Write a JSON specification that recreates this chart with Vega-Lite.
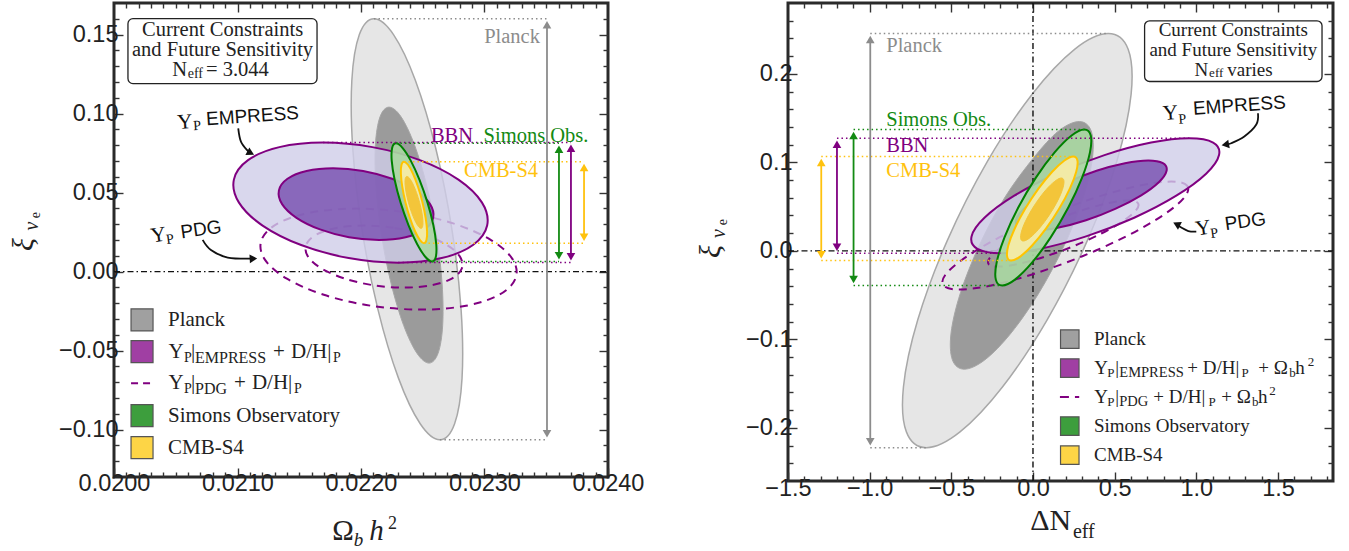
{
"$schema":"https://vega.github.io/schema/vega-lite/v6.json",
"padding":{"left":7,"top":0,"right":0,"bottom":0},
"background":"white",
"bounds":"flush",
"spacing":180,
"config":{"view":{"stroke":"#2a2a2a","strokeWidth":3},"axis":{"domain":false,"grid":false,"tickColor":"#333","tickWidth":1.4,"labelFont":"Liberation Sans","labelFontSize":23.5,"labelColor":"#222","labelFlush":false,"labelOverlap":false,"zindex":1}},
"datasets":{
"LE":[
{"e":"po","i":0,"x":0.022105,"y":0.16},{"e":"po","i":1,"x":0.0222646,"y":0.14983},{"e":"po","i":2,"x":0.0224406,"y":0.12096},{"e":"po","i":3,"x":0.0226061,"y":0.07775},{"e":"po","i":4,"x":0.022736,"y":0.02677},{"e":"po","i":5,"x":0.0228105,"y":-0.02421},{"e":"po","i":6,"x":0.0228182,"y":-0.06742},{"e":"po","i":7,"x":0.022758,"y":-0.09629},{"e":"po","i":8,"x":0.022639,"y":-0.10643},{"e":"po","i":9,"x":0.0224794,"y":-0.09629},{"e":"po","i":10,"x":0.0223034,"y":-0.06742},{"e":"po","i":11,"x":0.0221379,"y":-0.02421},{"e":"po","i":12,"x":0.022008,"y":0.02677},{"e":"po","i":13,"x":0.0219335,"y":0.07775},{"e":"po","i":14,"x":0.0219258,"y":0.12096},{"e":"po","i":15,"x":0.021986,"y":0.14983},
{"e":"pi","i":0,"x":0.022227,"y":0.1041},{"e":"pi","i":1,"x":0.0223246,"y":0.09794},{"e":"pi","i":2,"x":0.0224321,"y":0.08038},{"e":"pi","i":3,"x":0.022533,"y":0.0541},{"e":"pi","i":4,"x":0.022612,"y":0.0231},{"e":"pi","i":5,"x":0.022657,"y":-0.0079},{"e":"pi","i":6,"x":0.0226612,"y":-0.03418},{"e":"pi","i":7,"x":0.022624,"y":-0.05174},{"e":"pi","i":8,"x":0.022551,"y":-0.0579},{"e":"pi","i":9,"x":0.0224534,"y":-0.05174},{"e":"pi","i":10,"x":0.0223459,"y":-0.03418},{"e":"pi","i":11,"x":0.022245,"y":-0.0079},{"e":"pi","i":12,"x":0.022166,"y":0.0231},{"e":"pi","i":13,"x":0.022121,"y":0.0541},{"e":"pi","i":14,"x":0.0221168,"y":0.08038},{"e":"pi","i":15,"x":0.022154,"y":0.09794},
{"e":"eo","i":0,"x":0.021692,"y":0.08167},{"e":"eo","i":1,"x":0.0220917,"y":0.07878},{"e":"eo","i":2,"x":0.0224768,"y":0.07054},{"e":"eo","i":3,"x":0.0227888,"y":0.05821},{"e":"eo","i":4,"x":0.02298,"y":0.04367},{"e":"eo","i":5,"x":0.0230214,"y":0.02913},{"e":"eo","i":6,"x":0.0229067,"y":0.0168},{"e":"eo","i":7,"x":0.0226535,"y":0.00856},{"e":"eo","i":8,"x":0.0223,"y":0.00567},{"e":"eo","i":9,"x":0.0219003,"y":0.00856},{"e":"eo","i":10,"x":0.0215152,"y":0.0168},{"e":"eo","i":11,"x":0.0212032,"y":0.02913},{"e":"eo","i":12,"x":0.021012,"y":0.04367},{"e":"eo","i":13,"x":0.0209706,"y":0.05821},{"e":"eo","i":14,"x":0.0210853,"y":0.07054},{"e":"eo","i":15,"x":0.0213385,"y":0.07878},
{"e":"ei","i":0,"x":0.021774,"y":0.06538},{"e":"ei","i":1,"x":0.0220174,"y":0.06366},{"e":"ei","i":2,"x":0.022252,"y":0.05874},{"e":"ei","i":3,"x":0.0224422,"y":0.05139},{"e":"ei","i":4,"x":0.022559,"y":0.04272},{"e":"ei","i":5,"x":0.0225846,"y":0.03405},{"e":"ei","i":6,"x":0.0225151,"y":0.0267},{"e":"ei","i":7,"x":0.022361,"y":0.02178},{"e":"ei","i":8,"x":0.022146,"y":0.02006},{"e":"ei","i":9,"x":0.0219026,"y":0.02178},{"e":"ei","i":10,"x":0.021668,"y":0.0267},{"e":"ei","i":11,"x":0.0214778,"y":0.03405},{"e":"ei","i":12,"x":0.021361,"y":0.04272},{"e":"ei","i":13,"x":0.0213354,"y":0.05139},{"e":"ei","i":14,"x":0.0214049,"y":0.05874},{"e":"ei","i":15,"x":0.021559,"y":0.06366},
{"e":"do","i":0,"x":0.02196,"y":0.03987},{"e":"do","i":1,"x":0.0223642,"y":0.03744},{"e":"do","i":2,"x":0.022747,"y":0.03051},{"e":"do","i":3,"x":0.0230499,"y":0.02014},{"e":"do","i":4,"x":0.023227,"y":0.00791},{"e":"do","i":5,"x":0.0232513,"y":-0.00432},{"e":"do","i":6,"x":0.0231189,"y":-0.01469},{"e":"do","i":7,"x":0.0228502,"y":-0.02162},{"e":"do","i":8,"x":0.022486,"y":-0.02405},{"e":"do","i":9,"x":0.0220818,"y":-0.02162},{"e":"do","i":10,"x":0.021699,"y":-0.01469},{"e":"do","i":11,"x":0.0213961,"y":-0.00432},{"e":"do","i":12,"x":0.021219,"y":0.00791},{"e":"do","i":13,"x":0.0211947,"y":0.02014},{"e":"do","i":14,"x":0.0213271,"y":0.03051},{"e":"do","i":15,"x":0.0215958,"y":0.03744},
{"e":"di","i":0,"x":0.022024,"y":0.02911},{"e":"di","i":1,"x":0.0222717,"y":0.02762},{"e":"di","i":2,"x":0.0225063,"y":0.02336},{"e":"di","i":3,"x":0.0226922,"y":0.017},{"e":"di","i":4,"x":0.022801,"y":0.00949},{"e":"di","i":5,"x":0.0228162,"y":0.00198},{"e":"di","i":6,"x":0.0227354,"y":-0.00438},{"e":"di","i":7,"x":0.0225711,"y":-0.00864},{"e":"di","i":8,"x":0.022348,"y":-0.01013},{"e":"di","i":9,"x":0.0221003,"y":-0.00864},{"e":"di","i":10,"x":0.0218657,"y":-0.00438},{"e":"di","i":11,"x":0.0216798,"y":0.00198},{"e":"di","i":12,"x":0.021571,"y":0.00949},{"e":"di","i":13,"x":0.0215558,"y":0.017},{"e":"di","i":14,"x":0.0216366,"y":0.02336},{"e":"di","i":15,"x":0.0218009,"y":0.02762},
{"e":"so","i":0,"x":0.022283,"y":0.0812},{"e":"so","i":1,"x":0.0223358,"y":0.07835},{"e":"so","i":2,"x":0.0224028,"y":0.07025},{"e":"so","i":3,"x":0.0224738,"y":0.05811},{"e":"so","i":4,"x":0.022538,"y":0.0438},{"e":"so","i":5,"x":0.0225856,"y":0.02949},{"e":"so","i":6,"x":0.0226093,"y":0.01735},{"e":"so","i":7,"x":0.0226056,"y":0.00925},{"e":"so","i":8,"x":0.022575,"y":0.0064},{"e":"so","i":9,"x":0.0225222,"y":0.00925},{"e":"so","i":10,"x":0.0224552,"y":0.01735},{"e":"so","i":11,"x":0.0223842,"y":0.02949},{"e":"so","i":12,"x":0.02232,"y":0.0438},{"e":"so","i":13,"x":0.0222724,"y":0.05811},{"e":"so","i":14,"x":0.0222487,"y":0.07025},{"e":"so","i":15,"x":0.0222524,"y":0.07835},
{"e":"co","i":0,"x":0.022348,"y":0.0696},{"e":"co","i":1,"x":0.0223806,"y":0.06764},{"e":"co","i":2,"x":0.0224205,"y":0.06204},{"e":"co","i":3,"x":0.0224617,"y":0.05367},{"e":"co","i":4,"x":0.022498,"y":0.0438},{"e":"co","i":5,"x":0.0225237,"y":0.03393},{"e":"co","i":6,"x":0.0225351,"y":0.02556},{"e":"co","i":7,"x":0.0225302,"y":0.01996},{"e":"co","i":8,"x":0.02251,"y":0.018},{"e":"co","i":9,"x":0.0224774,"y":0.01996},{"e":"co","i":10,"x":0.0224375,"y":0.02556},{"e":"co","i":11,"x":0.0223963,"y":0.03393},{"e":"co","i":12,"x":0.02236,"y":0.0438},{"e":"co","i":13,"x":0.0223343,"y":0.05367},{"e":"co","i":14,"x":0.0223229,"y":0.06204},{"e":"co","i":15,"x":0.0223278,"y":0.06764},
{"e":"ci","i":0,"x":0.022372,"y":0.06026},{"e":"ci","i":1,"x":0.0223935,"y":0.05901},{"e":"ci","i":2,"x":0.0224205,"y":0.05544},{"e":"ci","i":3,"x":0.0224488,"y":0.0501},{"e":"ci","i":4,"x":0.022474,"y":0.0438},{"e":"ci","i":5,"x":0.0224924,"y":0.0375},{"e":"ci","i":6,"x":0.0225011,"y":0.03216},{"e":"ci","i":7,"x":0.0224989,"y":0.02859},{"e":"ci","i":8,"x":0.022486,"y":0.02734},{"e":"ci","i":9,"x":0.0224645,"y":0.02859},{"e":"ci","i":10,"x":0.0224375,"y":0.03216},{"e":"ci","i":11,"x":0.0224092,"y":0.0375},{"e":"ci","i":12,"x":0.022384,"y":0.0438},{"e":"ci","i":13,"x":0.0223656,"y":0.0501},{"e":"ci","i":14,"x":0.0223569,"y":0.05544},{"e":"ci","i":15,"x":0.0223591,"y":0.05901}
],
"RE":[
{"e":"po","i":0,"x":0.4611,"y":0.2455},{"e":"po","i":1,"x":0.5828,"y":0.2277},{"e":"po","i":2,"x":0.601,"y":0.177},{"e":"po","i":3,"x":0.5132,"y":0.1011},{"e":"po","i":4,"x":0.3326,"y":0.0116},{"e":"po","i":5,"x":0.0868,"y":-0.0779},{"e":"po","i":6,"x":-0.187,"y":-0.1538},{"e":"po","i":7,"x":-0.4468,"y":-0.2045},{"e":"po","i":8,"x":-0.6533,"y":-0.2223},{"e":"po","i":9,"x":-0.775,"y":-0.2045},{"e":"po","i":10,"x":-0.7932,"y":-0.1538},{"e":"po","i":11,"x":-0.7054,"y":-0.0779},{"e":"po","i":12,"x":-0.5248,"y":0.0116},{"e":"po","i":13,"x":-0.279,"y":0.1011},{"e":"po","i":14,"x":-0.0052,"y":0.177},{"e":"po","i":15,"x":0.2546,"y":0.2277},
{"e":"pi","i":0,"x":0.2835,"y":0.1461},{"e":"pi","i":1,"x":0.3563,"y":0.1355},{"e":"pi","i":2,"x":0.3644,"y":0.1051},{"e":"pi","i":3,"x":0.3066,"y":0.0597},{"e":"pi","i":4,"x":0.1917,"y":0.0062},{"e":"pi","i":5,"x":0.0372,"y":-0.0473},{"e":"pi","i":6,"x":-0.1335,"y":-0.0927},{"e":"pi","i":7,"x":-0.2943,"y":-0.1231},{"e":"pi","i":8,"x":-0.4207,"y":-0.1337},{"e":"pi","i":9,"x":-0.4935,"y":-0.1231},{"e":"pi","i":10,"x":-0.5016,"y":-0.0927},{"e":"pi","i":11,"x":-0.4438,"y":-0.0473},{"e":"pi","i":12,"x":-0.3289,"y":0.0062},{"e":"pi","i":13,"x":-0.1744,"y":0.0597},{"e":"pi","i":14,"x":0.0037,"y":0.1051},{"e":"pi","i":15,"x":0.1571,"y":0.1355},
{"e":"eo","i":0,"x":0.9571,"y":0.1272},{"e":"eo","i":1,"x":1.1031,"y":0.1223},{"e":"eo","i":2,"x":1.1392,"y":0.1082},{"e":"eo","i":3,"x":1.0601,"y":0.0871},{"e":"eo","i":4,"x":0.8775,"y":0.0623},{"e":"eo","i":5,"x":0.6195,"y":0.0374},{"e":"eo","i":6,"x":0.3252,"y":0.0163},{"e":"eo","i":7,"x":0.0395,"y":0.0022},{"e":"eo","i":8,"x":-0.1941,"y":-0.0027},{"e":"eo","i":9,"x":-0.3401,"y":0.0022},{"e":"eo","i":10,"x":-0.3762,"y":0.0163},{"e":"eo","i":11,"x":-0.2971,"y":0.0374},{"e":"eo","i":12,"x":-0.1145,"y":0.0623},{"e":"eo","i":13,"x":0.1435,"y":0.0871},{"e":"eo","i":14,"x":0.4378,"y":0.1082},{"e":"eo","i":15,"x":0.7235,"y":0.1223},
{"e":"ei","i":0,"x":0.706,"y":0.1021},{"e":"ei","i":1,"x":0.7954,"y":0.099},{"e":"ei","i":2,"x":0.8181,"y":0.0905},{"e":"ei","i":3,"x":0.7706,"y":0.0776},{"e":"ei","i":4,"x":0.6601,"y":0.0625},{"e":"ei","i":5,"x":0.5034,"y":0.0474},{"e":"ei","i":6,"x":0.3245,"y":0.0345},{"e":"ei","i":7,"x":0.1506,"y":0.026},{"e":"ei","i":8,"x":0.008,"y":0.023},{"e":"ei","i":9,"x":-0.0814,"y":0.026},{"e":"ei","i":10,"x":-0.1041,"y":0.0345},{"e":"ei","i":11,"x":-0.0566,"y":0.0474},{"e":"ei","i":12,"x":0.0539,"y":0.0625},{"e":"ei","i":13,"x":0.2106,"y":0.0776},{"e":"ei","i":14,"x":0.3895,"y":0.0905},{"e":"ei","i":15,"x":0.5634,"y":0.099},
{"e":"do","i":0,"x":0.8469,"y":0.0783},{"e":"do","i":1,"x":0.9437,"y":0.0737},{"e":"do","i":2,"x":0.927,"y":0.0604},{"e":"do","i":3,"x":0.7992,"y":0.0406},{"e":"do","i":4,"x":0.5799,"y":0.0173},{"e":"do","i":5,"x":0.3024,"y":-0.0061},{"e":"do","i":6,"x":0.009,"y":-0.0258},{"e":"do","i":7,"x":-0.2557,"y":-0.0391},{"e":"do","i":8,"x":-0.4513,"y":-0.0437},{"e":"do","i":9,"x":-0.5481,"y":-0.0391},{"e":"do","i":10,"x":-0.5314,"y":-0.0258},{"e":"do","i":11,"x":-0.4036,"y":-0.0061},{"e":"do","i":12,"x":-0.1843,"y":0.0173},{"e":"do","i":13,"x":0.0932,"y":0.0406},{"e":"do","i":14,"x":0.3866,"y":0.0604},{"e":"do","i":15,"x":0.6513,"y":0.0737},
{"e":"di","i":0,"x":0.5835,"y":0.0569},{"e":"di","i":1,"x":0.6423,"y":0.054},{"e":"di","i":2,"x":0.6315,"y":0.0459},{"e":"di","i":3,"x":0.5528,"y":0.0338},{"e":"di","i":4,"x":0.4182,"y":0.0196},{"e":"di","i":5,"x":0.2482,"y":0.0053},{"e":"di","i":6,"x":0.0686,"y":-0.0068},{"e":"di","i":7,"x":-0.0931,"y":-0.0149},{"e":"di","i":8,"x":-0.2125,"y":-0.0178},{"e":"di","i":9,"x":-0.2713,"y":-0.0149},{"e":"di","i":10,"x":-0.2605,"y":-0.0068},{"e":"di","i":11,"x":-0.1818,"y":0.0053},{"e":"di","i":12,"x":-0.0472,"y":0.0196},{"e":"di","i":13,"x":0.1228,"y":0.0338},{"e":"di","i":14,"x":0.3024,"y":0.0459},{"e":"di","i":15,"x":0.4641,"y":0.054},
{"e":"so","i":0,"x":0.3142,"y":0.1371},{"e":"so","i":1,"x":0.3537,"y":0.1304},{"e":"so","i":2,"x":0.3489,"y":0.1113},{"e":"so","i":3,"x":0.3006,"y":0.0827},{"e":"so","i":4,"x":0.2162,"y":0.0489},{"e":"so","i":5,"x":0.1084,"y":0.0152},{"e":"so","i":6,"x":-0.0062,"y":-0.0134},{"e":"so","i":7,"x":-0.1103,"y":-0.0325},{"e":"so","i":8,"x":-0.188,"y":-0.0392},{"e":"so","i":9,"x":-0.2275,"y":-0.0325},{"e":"so","i":10,"x":-0.2227,"y":-0.0134},{"e":"so","i":11,"x":-0.1744,"y":0.0152},{"e":"so","i":12,"x":-0.09,"y":0.0489},{"e":"so","i":13,"x":0.0178,"y":0.0827},{"e":"so","i":14,"x":0.1324,"y":0.1113},{"e":"so","i":15,"x":0.2365,"y":0.1304},
{"e":"co","i":0,"x":0.2468,"y":0.1066},{"e":"co","i":1,"x":0.2722,"y":0.1021},{"e":"co","i":2,"x":0.2648,"y":0.0894},{"e":"co","i":3,"x":0.2258,"y":0.0703},{"e":"co","i":4,"x":0.1611,"y":0.0478},{"e":"co","i":5,"x":0.0806,"y":0.0253},{"e":"co","i":6,"x":-0.0036,"y":0.0063},{"e":"co","i":7,"x":-0.0786,"y":-0.0065},{"e":"co","i":8,"x":-0.1328,"y":-0.011},{"e":"co","i":9,"x":-0.1582,"y":-0.0065},{"e":"co","i":10,"x":-0.1508,"y":0.0063},{"e":"co","i":11,"x":-0.1118,"y":0.0253},{"e":"co","i":12,"x":-0.0471,"y":0.0478},{"e":"co","i":13,"x":0.0334,"y":0.0703},{"e":"co","i":14,"x":0.1176,"y":0.0894},{"e":"co","i":15,"x":0.1926,"y":0.1021},
{"e":"ci","i":0,"x":0.1733,"y":0.0823},{"e":"ci","i":1,"x":0.189,"y":0.0796},{"e":"ci","i":2,"x":0.1847,"y":0.0719},{"e":"ci","i":3,"x":0.1609,"y":0.0603},{"e":"ci","i":4,"x":0.1213,"y":0.0467},{"e":"ci","i":5,"x":0.0719,"y":0.0331},{"e":"ci","i":6,"x":0.0202,"y":0.0215},{"e":"ci","i":7,"x":-0.0258,"y":0.0138},{"e":"ci","i":8,"x":-0.0593,"y":0.0111},{"e":"ci","i":9,"x":-0.075,"y":0.0138},{"e":"ci","i":10,"x":-0.0707,"y":0.0215},{"e":"ci","i":11,"x":-0.0469,"y":0.0331},{"e":"ci","i":12,"x":-0.0073,"y":0.0467},{"e":"ci","i":13,"x":0.0421,"y":0.0603},{"e":"ci","i":14,"x":0.0938,"y":0.0719},{"e":"ci","i":15,"x":0.141,"y":0.0796}
]
},
"hconcat":[
{
"width":494,"height":474,
"data":{"name":"LE"},
"resolve":{"axis":{"x":"independent","y":"independent"}},
"encoding":{
"x":{"field":"x","type":"quantitative","scale":{"domain":[0.02,0.024],"nice":false,"zero":false},"axis":null},
"y":{"field":"y","type":"quantitative","scale":{"domain":[-0.13,0.17],"nice":false,"zero":false},"axis":null}
},
"layer":[
{"data":{"values":[{"x":0.022,"y":0}]},"mark":{"type":"point","opacity":0},
"encoding":{"x":{"field":"x","type":"quantitative","scale":{"domain":[0.02,0.024],"nice":false,"zero":false},"axis":{"orient":"bottom","values":[0.02,0.021,0.022,0.023,0.024],"format":".4f","tickSize":-9,"labelPadding":3,"labelFlush":false,"title":null}},
"y":{"field":"y","type":"quantitative","scale":{"domain":[-0.13,0.17],"nice":false,"zero":false},"axis":{"orient":"left","values":[-0.1,-0.05,0,0.05,0.1,0.15],"format":".2f","tickSize":-9,"labelPadding":5,"labelFlush":false,"title":null}}}},
{"data":{"values":[{"x":0.022,"y":0}]},"mark":{"type":"point","opacity":0},
"encoding":{"x":{"field":"x","type":"quantitative","scale":{"domain":[0.02,0.024],"nice":false,"zero":false},"axis":{"orient":"bottom","values":[0.0201,0.0202,0.0203,0.0204,0.0205,0.0206,0.0207,0.0208,0.0209,0.0211,0.0212,0.0213,0.0214,0.0215,0.0216,0.0217,0.0218,0.0219,0.0221,0.0222,0.0223,0.0224,0.0225,0.0226,0.0227,0.0228,0.0229,0.0231,0.0232,0.0233,0.0234,0.0235,0.0236,0.0237,0.0238,0.0239],"labels":false,"tickSize":-5,"title":null}},
"y":{"field":"y","type":"quantitative","scale":{"domain":[-0.13,0.17],"nice":false,"zero":false},"axis":{"orient":"left","values":[-0.12,-0.11,-0.09,-0.08,-0.07,-0.06,-0.04,-0.03,-0.02,-0.01,0.01,0.02,0.03,0.04,0.06,0.07,0.08,0.09,0.11,0.12,0.13,0.14,0.16],"labels":false,"tickSize":-5,"title":null}}}},
{"data":{"values":[{"x":0.022,"y":0}]},"mark":{"type":"point","opacity":0},
"encoding":{"x":{"field":"x","type":"quantitative","scale":{"domain":[0.02,0.024],"nice":false,"zero":false},"axis":{"orient":"top","values":[0.021,0.022,0.023],"labels":false,"tickSize":-9,"title":null}},
"y":{"field":"y","type":"quantitative","scale":{"domain":[-0.13,0.17],"nice":false,"zero":false},"axis":{"orient":"right","values":[-0.1,-0.05,0,0.05,0.1,0.15],"labels":false,"tickSize":-9,"title":null}}}},
{"data":{"values":[{"x":0.022,"y":0}]},"mark":{"type":"point","opacity":0},
"encoding":{"x":{"field":"x","type":"quantitative","scale":{"domain":[0.02,0.024],"nice":false,"zero":false},"axis":{"orient":"top","values":[0.0201,0.0202,0.0203,0.0204,0.0205,0.0206,0.0207,0.0208,0.0209,0.0211,0.0212,0.0213,0.0214,0.0215,0.0216,0.0217,0.0218,0.0219,0.0221,0.0222,0.0223,0.0224,0.0225,0.0226,0.0227,0.0228,0.0229,0.0231,0.0232,0.0233,0.0234,0.0235,0.0236,0.0237,0.0238,0.0239],"labels":false,"tickSize":-5,"title":null}},
"y":{"field":"y","type":"quantitative","scale":{"domain":[-0.13,0.17],"nice":false,"zero":false},"axis":{"orient":"right","values":[-0.12,-0.11,-0.09,-0.08,-0.07,-0.06,-0.04,-0.03,-0.02,-0.01,0.01,0.02,0.03,0.04,0.06,0.07,0.08,0.09,0.11,0.12,0.13,0.14,0.16],"labels":false,"tickSize":-5,"title":null}}}},
{"transform":[{"filter":"datum.e==='po'"}],"mark":{"type":"line","interpolate":"cardinal-closed","fill":"#e6e6e6","stroke":"#a8a8a8","strokeWidth":1.5},"encoding":{"order":{"field":"i","type":"quantitative"}}},
{"transform":[{"filter":"datum.e==='pi'"}],"mark":{"type":"line","interpolate":"cardinal-closed","fill":"#9b9b9b","stroke":"#a6a6a6","strokeWidth":1},"encoding":{"order":{"field":"i","type":"quantitative"}}},
{"data":{"values":[{"x":0.02,"x2":0.024,"y":0}]},"mark":{"type":"rule","color":"#111","strokeDash":[6,3,1.5,3],"strokeWidth":1.4},"encoding":{"x2":{"field":"x2"}}},
{"transform":[{"filter":"datum.e==='do'"}],"mark":{"type":"line","interpolate":"cardinal-closed","stroke":"#800080","strokeWidth":2,"strokeDash":[8,6]},"encoding":{"order":{"field":"i","type":"quantitative"}}},
{"transform":[{"filter":"datum.e==='di'"}],"mark":{"type":"line","interpolate":"cardinal-closed","stroke":"#800080","strokeWidth":2,"strokeDash":[8,6]},"encoding":{"order":{"field":"i","type":"quantitative"}}},
{"transform":[{"filter":"datum.e==='eo'"}],"mark":{"type":"line","interpolate":"cardinal-closed","fill":"#cfcde8","fillOpacity":0.8,"stroke":"#800080","strokeWidth":2},"encoding":{"order":{"field":"i","type":"quantitative"}}},
{"transform":[{"filter":"datum.e==='ei'"}],"mark":{"type":"line","interpolate":"cardinal-closed","fill":"#7a55b2","fillOpacity":0.85,"stroke":"#800080","strokeWidth":2},"encoding":{"order":{"field":"i","type":"quantitative"}}},
{"transform":[{"filter":"datum.e==='so'"}],"mark":{"type":"line","interpolate":"cardinal-closed","fill":"#aad8a2","fillOpacity":0.9,"stroke":"#008000","strokeWidth":2},"encoding":{"order":{"field":"i","type":"quantitative"}}},
{"transform":[{"filter":"datum.e==='co'"}],"mark":{"type":"line","interpolate":"cardinal-closed","fill":"#f1eaa6","stroke":"#ffc400","strokeWidth":2},"encoding":{"order":{"field":"i","type":"quantitative"}}},
{"transform":[{"filter":"datum.e==='ci'"}],"mark":{"type":"line","interpolate":"cardinal-closed","fill":"#f3c53a","stroke":"#f3c53a","strokeWidth":1},"encoding":{"order":{"field":"i","type":"quantitative"}}},
{"data":{"values":[
{"c":"g","x":0.022105,"x2":0.023506,"y":0.16},{"c":"g","x":0.022639,"x2":0.023506,"y":-0.1064},
{"c":"p","x":0.021692,"x2":0.0237,"y":0.0817},{"c":"v","x":0.022283,"x2":0.023603,"y":0.0812},
{"c":"y","x":0.022348,"x2":0.023806,"y":0.0696},{"c":"y","x":0.02251,"x2":0.023806,"y":0.018},
{"c":"v","x":0.022575,"x2":0.023603,"y":0.0064},{"c":"p","x":0.0223,"x2":0.0237,"y":0.0057}]},
"mark":{"type":"rule","strokeDash":[1.5,3],"strokeWidth":1.5},
"encoding":{"x2":{"field":"x2"},"color":{"field":"c","type":"nominal","scale":{"domain":["g","p","v","y","Lg","Lp","Lv","Ly"],"range":["#8c8c8c","#800080","#138a13","#ffc20e","#a0a0a0","#a03fa3","#3d9e3d","#fdd546"]},"legend":null}}},
{"data":{"values":[
{"c":"g","x":0.023506,"y":0.1563,"y2":-0.1027},{"c":"v","x":0.023603,"y":0.0775,"y2":0.0101},
{"c":"p","x":0.0237,"y":0.078,"y2":0.0094},{"c":"y","x":0.023806,"y":0.0659,"y2":0.0217}]},
"mark":{"type":"rule","strokeWidth":1.8},
"encoding":{"y2":{"field":"y2"},"color":{"field":"c","type":"nominal","scale":{"domain":["g","p","v","y","Lg","Lp","Lv","Ly"],"range":["#8c8c8c","#800080","#138a13","#ffc20e","#a0a0a0","#a03fa3","#3d9e3d","#fdd546"]},"legend":null}}},
{"data":{"values":[
{"c":"g","d":"u","x":0.023506,"y":0.1563},{"c":"g","d":"d","x":0.023506,"y":-0.1027},
{"c":"v","d":"u","x":0.023603,"y":0.0775},{"c":"v","d":"d","x":0.023603,"y":0.0101},
{"c":"p","d":"u","x":0.0237,"y":0.078},{"c":"p","d":"d","x":0.0237,"y":0.0094},
{"c":"y","d":"u","x":0.023806,"y":0.0659},{"c":"y","d":"d","x":0.023806,"y":0.0217}]},
"mark":{"type":"point","filled":true,"opacity":1,"size":75},
"encoding":{"shape":{"field":"d","type":"nominal","scale":{"domain":["u","d"],"range":["triangle-up","triangle-down"]},"legend":null},"color":{"field":"c","type":"nominal","scale":{"domain":["g","p","v","y","Lg","Lp","Lv","Ly"],"range":["#8c8c8c","#800080","#138a13","#ffc20e","#a0a0a0","#a03fa3","#3d9e3d","#fdd546"]},"legend":null}}},
{"data":{"values":[{"i":0,"x":0.021006,"y":0.0907},{"i":1,"x":0.021028,"y":0.0823},{"i":2,"x":0.021083,"y":0.0764},{"i":3,"x":0.021107,"y":0.0751}]},
"mark":{"type":"line","interpolate":"cardinal","color":"#111","strokeWidth":1.8},"encoding":{"order":{"field":"i","type":"quantitative"}}},
{"data":{"values":[{"x":0.021107,"y":0.0751}]},"mark":{"type":"point","shape":"triangle-right","angle":27,"filled":true,"opacity":1,"color":"#111","size":75}},
{"data":{"values":[{"i":0,"x":0.020718,"y":0.0201},{"i":1,"x":0.020785,"y":0.0137},{"i":2,"x":0.020921,"y":0.0089},{"i":3,"x":0.021129,"y":0.0082}]},
"mark":{"type":"line","interpolate":"cardinal","color":"#111","strokeWidth":1.8},"encoding":{"order":{"field":"i","type":"quantitative"}}},
{"data":{"values":[{"x":0.021129,"y":0.0082}]},"mark":{"type":"point","shape":"triangle-right","angle":-3,"filled":true,"opacity":1,"color":"#111","size":75}},
{"data":{"values":[{"t":"Planck","x":0.023223,"y":0.1487,"c":"g"},{"t":"BBN","x":0.022737,"y":0.0861,"c":"p"},{"t":"Simons Obs.","x":0.023417,"y":0.0861,"c":"v"},{"t":"CMB-S4","x":0.023134,"y":0.0639,"c":"y"}]},
"mark":{"type":"text","font":"Liberation Serif","fontSize":20.5,"align":"center","baseline":"middle"},
"encoding":{"text":{"field":"t","type":"nominal"},"color":{"field":"c","type":"nominal","scale":{"domain":["g","p","v","y","Lg","Lp","Lv","Ly"],"range":["#8c8c8c","#800080","#138a13","#ffc20e","#a0a0a0","#a03fa3","#3d9e3d","#fdd546"]},"legend":null}}},
{"data":{"values":[{"t":"Y","x":0.020575,"y":0.0943}]},"mark":{"type":"text","font":"Liberation Serif","fontSize":21,"angle":-4,"align":"center","baseline":"middle","color":"#111"},"encoding":{"text":{"field":"t","type":"nominal"}}},
{"data":{"values":[{"t":"P","x":0.020672,"y":0.0922}]},"mark":{"type":"text","font":"Liberation Serif","fontSize":14,"angle":-4,"align":"center","baseline":"middle","color":"#111"},"encoding":{"text":{"field":"t","type":"nominal"}}},
{"data":{"values":[{"t":"EMPRESS","x":0.021121,"y":0.0984}]},"mark":{"type":"text","font":"Liberation Sans","fontSize":19,"angle":-4,"align":"center","baseline":"middle","color":"#111"},"encoding":{"text":{"field":"t","type":"nominal"}}},
{"data":{"values":[{"t":"Y","x":0.02036,"y":0.0228}]},"mark":{"type":"text","font":"Liberation Serif","fontSize":21,"angle":-8,"align":"center","baseline":"middle","color":"#111"},"encoding":{"text":{"field":"t","type":"nominal"}}},
{"data":{"values":[{"t":"P","x":0.020453,"y":0.0203}]},"mark":{"type":"text","font":"Liberation Serif","fontSize":14,"angle":-8,"align":"center","baseline":"middle","color":"#111"},"encoding":{"text":{"field":"t","type":"nominal"}}},
{"data":{"values":[{"t":"PDG","x":0.020704,"y":0.0266}]},"mark":{"type":"text","font":"Liberation Sans","fontSize":19,"angle":-8,"align":"center","baseline":"middle","color":"#111"},"encoding":{"text":{"field":"t","type":"nominal"}}},
{"data":{"values":[{"x":0.020113,"x2":0.021644,"y":0.1601,"y2":0.119}]},"mark":{"type":"rect","fill":"white","stroke":"#222","strokeWidth":1.3,"cornerRadius":5},"encoding":{"x2":{"field":"x2"},"y2":{"field":"y2"}}},
{"data":{"values":[{"t":"Current Constraints","x":0.020879,"y":0.153},{"t":"and Future Sensitivity","x":0.020879,"y":0.1403}]},"mark":{"type":"text","font":"Liberation Serif","fontSize":20.5,"align":"center","baseline":"middle","color":"#222"},"encoding":{"text":{"field":"t","type":"nominal"}}},
{"data":{"values":[{"t":"N","x":0.020591,"y":0.1277}]},"mark":{"type":"text","font":"Liberation Serif","fontSize":20.5,"align":"right","baseline":"middle","color":"#222"},"encoding":{"text":{"field":"t","type":"nominal"}}},
{"data":{"values":[{"t":"eff","x":0.020597,"y":0.1248}]},"mark":{"type":"text","font":"Liberation Serif","fontSize":14,"align":"left","baseline":"middle","color":"#222"},"encoding":{"text":{"field":"t","type":"nominal"}}},
{"data":{"values":[{"t":"= 3.044","x":0.020745,"y":0.1277}]},"mark":{"type":"text","font":"Liberation Serif","fontSize":20.5,"align":"left","baseline":"middle","color":"#222"},"encoding":{"text":{"field":"t","type":"nominal"}}},
{"data":{"values":[{"c":"Lg","x":0.020227,"y":-0.0306},{"c":"Lp","x":0.020227,"y":-0.0506},{"c":"Lv","x":0.020227,"y":-0.0911},{"c":"Ly","x":0.020227,"y":-0.1114}]},
"mark":{"type":"point","shape":"square","filled":true,"opacity":1,"size":484,"stroke":"#555","strokeWidth":1.2},
"encoding":{"color":{"field":"c","type":"nominal","scale":{"domain":["g","p","v","y","Lg","Lp","Lv","Ly"],"range":["#8c8c8c","#800080","#138a13","#ffc20e","#a0a0a0","#a03fa3","#3d9e3d","#fdd546"]},"legend":null}}},
{"data":{"values":[{"x":0.020138,"x2":0.020316,"y":-0.0707}]},"mark":{"type":"rule","color":"#800080","strokeWidth":2,"strokeDash":[7,5]},"encoding":{"x2":{"field":"x2"}}},
{"data":{"values":[{"t":"Planck","x":0.020437,"y":-0.0306},{"t":"Y","x":0.020441,"y":-0.0506},{"t":"|","x":0.020623,"y":-0.0506},{"t":"+","x":0.021287,"y":-0.0506},{"t":"D/H|","x":0.021433,"y":-0.0506},{"t":"Y","x":0.020441,"y":-0.0707},{"t":"|","x":0.020623,"y":-0.0707},{"t":"+","x":0.020972,"y":-0.0707},{"t":"D/H|","x":0.021117,"y":-0.0707},{"t":"Simons Observatory","x":0.020437,"y":-0.0911},{"t":"CMB-S4","x":0.020437,"y":-0.1114}]},
"mark":{"type":"text","font":"Liberation Serif","fontSize":21,"align":"left","baseline":"middle","color":"#222"},"encoding":{"text":{"field":"t","type":"nominal"}}},
{"data":{"values":[{"t":"P","x":0.020567,"y":-0.0544},{"t":"P","x":0.021773,"y":-0.0544},{"t":"P","x":0.020567,"y":-0.0745},{"t":"P","x":0.021457,"y":-0.0745}]},
"mark":{"type":"text","font":"Liberation Serif","fontSize":14,"align":"left","baseline":"middle","color":"#222"},"encoding":{"text":{"field":"t","type":"nominal"}}},
{"data":{"values":[{"t":"EMPRESS","x":0.020656,"y":-0.0544},{"t":"PDG","x":0.020656,"y":-0.0745}]},
"mark":{"type":"text","font":"Liberation Serif","fontSize":16,"align":"left","baseline":"middle","color":"#222"},"encoding":{"text":{"field":"t","type":"nominal"}}},
{"data":{"values":[{"t":"Ω","x":0.021854,"y":-0.1639}]},"mark":{"type":"text","font":"Liberation Serif","fontSize":29,"align":"center","baseline":"middle","color":"#222"},"encoding":{"text":{"field":"t","type":"nominal"}}},
{"data":{"values":[{"t":"b","x":0.02198,"y":-0.1696}]},"mark":{"type":"text","font":"Liberation Serif","fontStyle":"italic","fontSize":19,"align":"center","baseline":"middle","color":"#222"},"encoding":{"text":{"field":"t","type":"nominal"}}},
{"data":{"values":[{"t":"h","x":0.022126,"y":-0.1639}]},"mark":{"type":"text","font":"Liberation Serif","fontStyle":"italic","fontSize":29,"align":"center","baseline":"middle","color":"#222"},"encoding":{"text":{"field":"t","type":"nominal"}}},
{"data":{"values":[{"t":"2","x":0.022255,"y":-0.1595}]},"mark":{"type":"text","font":"Liberation Serif","fontSize":18,"align":"center","baseline":"middle","color":"#222"},"encoding":{"text":{"field":"t","type":"nominal"}}},
{"data":{"values":[{"t":"ξ","x":0.019271,"y":0.0171}]},"mark":{"type":"text","font":"Liberation Serif","fontStyle":"italic","fontSize":30,"angle":270,"align":"center","baseline":"middle","color":"#222"},"encoding":{"text":{"field":"t","type":"nominal"}}},
{"data":{"values":[{"t":"ν","x":0.019336,"y":0.0288}]},"mark":{"type":"text","font":"Liberation Serif","fontStyle":"italic","fontSize":20,"angle":270,"align":"center","baseline":"middle","color":"#222"},"encoding":{"text":{"field":"t","type":"nominal"}}},
{"data":{"values":[{"t":"e","x":0.019368,"y":0.0358}]},"mark":{"type":"text","font":"Liberation Serif","fontSize":14,"angle":270,"align":"center","baseline":"middle","color":"#222"},"encoding":{"text":{"field":"t","type":"nominal"}}}
]
},
{
"width":545,"height":478,
"data":{"name":"RE"},
"resolve":{"axis":{"x":"independent","y":"independent"}},
"encoding":{
"x":{"field":"x","type":"quantitative","scale":{"domain":[-1.5,1.837],"nice":false,"zero":false},"axis":null},
"y":{"field":"y","type":"quantitative","scale":{"domain":[-0.26,0.28],"nice":false,"zero":false},"axis":null}
},
"layer":[
{"data":{"values":[{"x":0,"y":0}]},"mark":{"type":"point","opacity":0},
"encoding":{"x":{"field":"x","type":"quantitative","scale":{"domain":[-1.5,1.837],"nice":false,"zero":false},"axis":{"orient":"bottom","values":[-1.5,-1,-0.5,0,0.5,1,1.5],"format":".1f","tickSize":-9,"labelPadding":4,"labelFlush":false,"title":null}},
"y":{"field":"y","type":"quantitative","scale":{"domain":[-0.26,0.28],"nice":false,"zero":false},"axis":{"orient":"left","values":[-0.2,-0.1,0,0.1,0.2],"format":".1f","tickSize":-9,"labelPadding":5,"labelFlush":false,"title":null}}}},
{"data":{"values":[{"x":0,"y":0}]},"mark":{"type":"point","opacity":0},
"encoding":{"x":{"field":"x","type":"quantitative","scale":{"domain":[-1.5,1.837],"nice":false,"zero":false},"axis":{"orient":"bottom","values":[-1.4,-1.3,-1.2,-1.1,-0.9,-0.8,-0.7,-0.6,-0.4,-0.3,-0.2,-0.1,0.1,0.2,0.3,0.4,0.6,0.7,0.8,0.9,1.1,1.2,1.3,1.4,1.6,1.7,1.8],"labels":false,"tickSize":-5,"title":null}},
"y":{"field":"y","type":"quantitative","scale":{"domain":[-0.26,0.28],"nice":false,"zero":false},"axis":{"orient":"left","values":[-0.24,-0.22,-0.18,-0.16,-0.14,-0.12,-0.08,-0.06,-0.04,-0.02,0.02,0.04,0.06,0.08,0.12,0.14,0.16,0.18,0.22,0.24,0.26],"labels":false,"tickSize":-5,"title":null}}}},
{"data":{"values":[{"x":0,"y":0}]},"mark":{"type":"point","opacity":0},
"encoding":{"x":{"field":"x","type":"quantitative","scale":{"domain":[-1.5,1.837],"nice":false,"zero":false},"axis":{"orient":"top","values":[-1,-0.5,0,0.5,1,1.5],"labels":false,"tickSize":-9,"title":null}},
"y":{"field":"y","type":"quantitative","scale":{"domain":[-0.26,0.28],"nice":false,"zero":false},"axis":{"orient":"right","values":[-0.2,-0.1,0,0.1,0.2],"labels":false,"tickSize":-9,"title":null}}}},
{"data":{"values":[{"x":0,"y":0}]},"mark":{"type":"point","opacity":0},
"encoding":{"x":{"field":"x","type":"quantitative","scale":{"domain":[-1.5,1.837],"nice":false,"zero":false},"axis":{"orient":"top","values":[-1.4,-1.3,-1.2,-1.1,-0.9,-0.8,-0.7,-0.6,-0.4,-0.3,-0.2,-0.1,0.1,0.2,0.3,0.4,0.6,0.7,0.8,0.9,1.1,1.2,1.3,1.4,1.6,1.7,1.8],"labels":false,"tickSize":-5,"title":null}},
"y":{"field":"y","type":"quantitative","scale":{"domain":[-0.26,0.28],"nice":false,"zero":false},"axis":{"orient":"right","values":[-0.24,-0.22,-0.18,-0.16,-0.14,-0.12,-0.08,-0.06,-0.04,-0.02,0.02,0.04,0.06,0.08,0.12,0.14,0.16,0.18,0.22,0.24,0.26],"labels":false,"tickSize":-5,"title":null}}}},
{"transform":[{"filter":"datum.e==='po'"}],"mark":{"type":"line","interpolate":"cardinal-closed","fill":"#e6e6e6","stroke":"#a8a8a8","strokeWidth":1.5},"encoding":{"order":{"field":"i","type":"quantitative"}}},
{"transform":[{"filter":"datum.e==='pi'"}],"mark":{"type":"line","interpolate":"cardinal-closed","fill":"#9b9b9b","stroke":"#a6a6a6","strokeWidth":1},"encoding":{"order":{"field":"i","type":"quantitative"}}},
{"data":{"values":[{"x":-1.5,"x2":1.837,"y":0}]},"mark":{"type":"rule","color":"#111","strokeDash":[6,3,1.5,3],"strokeWidth":1.4},"encoding":{"x2":{"field":"x2"}}},
{"data":{"values":[{"x":0,"y":-0.26,"y2":0.28}]},"mark":{"type":"rule","color":"#111","strokeDash":[6,3,1.5,3],"strokeWidth":1.4},"encoding":{"y2":{"field":"y2"}}},
{"transform":[{"filter":"datum.e==='do'"}],"mark":{"type":"line","interpolate":"cardinal-closed","stroke":"#800080","strokeWidth":2,"strokeDash":[8,6]},"encoding":{"order":{"field":"i","type":"quantitative"}}},
{"transform":[{"filter":"datum.e==='di'"}],"mark":{"type":"line","interpolate":"cardinal-closed","stroke":"#800080","strokeWidth":2,"strokeDash":[8,6]},"encoding":{"order":{"field":"i","type":"quantitative"}}},
{"transform":[{"filter":"datum.e==='eo'"}],"mark":{"type":"line","interpolate":"cardinal-closed","fill":"#cfcde8","fillOpacity":0.8,"stroke":"#800080","strokeWidth":2},"encoding":{"order":{"field":"i","type":"quantitative"}}},
{"transform":[{"filter":"datum.e==='ei'"}],"mark":{"type":"line","interpolate":"cardinal-closed","fill":"#7a55b2","fillOpacity":0.85,"stroke":"#800080","strokeWidth":2},"encoding":{"order":{"field":"i","type":"quantitative"}}},
{"transform":[{"filter":"datum.e==='so'"}],"mark":{"type":"line","interpolate":"cardinal-closed","fill":"#aad8a2","fillOpacity":0.9,"stroke":"#008000","strokeWidth":2},"encoding":{"order":{"field":"i","type":"quantitative"}}},
{"transform":[{"filter":"datum.e==='co'"}],"mark":{"type":"line","interpolate":"cardinal-closed","fill":"#f1eaa6","stroke":"#ffc400","strokeWidth":2},"encoding":{"order":{"field":"i","type":"quantitative"}}},
{"transform":[{"filter":"datum.e==='ci'"}],"mark":{"type":"line","interpolate":"cardinal-closed","fill":"#f3c53a","stroke":"#f3c53a","strokeWidth":1},"encoding":{"order":{"field":"i","type":"quantitative"}}},
{"data":{"values":[
{"c":"g","x":-0.9963,"x2":0.4611,"y":0.2455},{"c":"g","x":-0.9963,"x2":-0.6533,"y":-0.2223},
{"c":"v","x":-1.0986,"x2":0.3142,"y":0.1371},{"c":"v","x":-1.0986,"x2":-0.188,"y":-0.0392},
{"c":"p","x":-1.2002,"x2":0.9571,"y":0.1272},{"c":"p","x":-1.2002,"x2":-0.1941,"y":-0.0027},
{"c":"y","x":-1.2964,"x2":0.2468,"y":0.1066},{"c":"y","x":-1.2964,"x2":-0.1328,"y":-0.011}]},
"mark":{"type":"rule","strokeDash":[1.5,3],"strokeWidth":1.5},
"encoding":{"x2":{"field":"x2"},"color":{"field":"c","type":"nominal","scale":{"domain":["g","p","v","y","Lg","Lp","Lv","Ly"],"range":["#8c8c8c","#800080","#138a13","#ffc20e","#a0a0a0","#a03fa3","#3d9e3d","#fdd546"]},"legend":null}}},
{"data":{"values":[
{"c":"g","x":-0.9963,"y":0.2388,"y2":-0.2156},{"c":"v","x":-1.0986,"y":0.1304,"y2":-0.0325},
{"c":"p","x":-1.2002,"y":0.1205,"y2":0.004},{"c":"y","x":-1.2964,"y":0.0999,"y2":-0.0043}]},
"mark":{"type":"rule","strokeWidth":1.8},
"encoding":{"y2":{"field":"y2"},"color":{"field":"c","type":"nominal","scale":{"domain":["g","p","v","y","Lg","Lp","Lv","Ly"],"range":["#8c8c8c","#800080","#138a13","#ffc20e","#a0a0a0","#a03fa3","#3d9e3d","#fdd546"]},"legend":null}}},
{"data":{"values":[
{"c":"g","d":"u","x":-0.9963,"y":0.2388},{"c":"g","d":"d","x":-0.9963,"y":-0.2156},
{"c":"v","d":"u","x":-1.0986,"y":0.1304},{"c":"v","d":"d","x":-1.0986,"y":-0.0325},
{"c":"p","d":"u","x":-1.2002,"y":0.1205},{"c":"p","d":"d","x":-1.2002,"y":0.004},
{"c":"y","d":"u","x":-1.2964,"y":0.0999},{"c":"y","d":"d","x":-1.2964,"y":-0.0043}]},
"mark":{"type":"point","filled":true,"opacity":1,"size":75},
"encoding":{"shape":{"field":"d","type":"nominal","scale":{"domain":["u","d"],"range":["triangle-up","triangle-down"]},"legend":null},"color":{"field":"c","type":"nominal","scale":{"domain":["g","p","v","y","Lg","Lp","Lv","Ly"],"range":["#8c8c8c","#800080","#138a13","#ffc20e","#a0a0a0","#a03fa3","#3d9e3d","#fdd546"]},"legend":null}}},
{"data":{"values":[{"i":0,"x":1.3778,"y":0.1555},{"i":1,"x":1.3674,"y":0.1427},{"i":2,"x":1.2939,"y":0.1292},{"i":3,"x":1.2143,"y":0.1216},{"i":4,"x":1.1776,"y":0.1201}]},
"mark":{"type":"line","interpolate":"cardinal","color":"#111","strokeWidth":1.8},"encoding":{"order":{"field":"i","type":"quantitative"}}},
{"data":{"values":[{"x":1.1776,"y":0.1201}]},"mark":{"type":"point","shape":"triangle-left","angle":-10,"filled":true,"opacity":1,"color":"#111","size":75}},
{"data":{"values":[{"i":0,"x":1.0,"y":0.0218},{"i":1,"x":0.951,"y":0.0224},{"i":2,"x":0.9081,"y":0.0263},{"i":3,"x":0.8794,"y":0.0301}]},
"mark":{"type":"line","interpolate":"cardinal","color":"#111","strokeWidth":1.8},"encoding":{"order":{"field":"i","type":"quantitative"}}},
{"data":{"values":[{"x":0.8794,"y":0.0301}]},"mark":{"type":"point","shape":"triangle-left","angle":27,"filled":true,"opacity":1,"color":"#111","size":75}},
{"data":{"values":[{"t":"Planck","x":-0.8983,"y":0.2314,"c":"g"},{"t":"Simons Obs.","x":-0.8983,"y":0.1478,"c":"v"},{"t":"BBN","x":-0.8983,"y":0.1179,"c":"p"},{"t":"CMB-S4","x":-0.8983,"y":0.0907,"c":"y"}]},
"mark":{"type":"text","font":"Liberation Serif","fontSize":20.5,"align":"left","baseline":"middle"},
"encoding":{"text":{"field":"t","type":"nominal"},"color":{"field":"c","type":"nominal","scale":{"domain":["g","p","v","y","Lg","Lp","Lv","Ly"],"range":["#8c8c8c","#800080","#138a13","#ffc20e","#a0a0a0","#a03fa3","#3d9e3d","#fdd546"]},"legend":null}}},
{"data":{"values":[{"t":"Y","x":0.8408,"y":0.1551}]},"mark":{"type":"text","font":"Liberation Serif","fontSize":21,"angle":-4,"align":"center","baseline":"middle","color":"#111"},"encoding":{"text":{"field":"t","type":"nominal"}}},
{"data":{"values":[{"t":"P","x":0.9143,"y":0.1484}]},"mark":{"type":"text","font":"Liberation Serif","fontSize":14,"angle":-4,"align":"center","baseline":"middle","color":"#111"},"encoding":{"text":{"field":"t","type":"nominal"}}},
{"data":{"values":[{"t":"EMPRESS","x":1.2633,"y":0.1642}]},"mark":{"type":"text","font":"Liberation Sans","fontSize":19,"angle":-4,"align":"center","baseline":"middle","color":"#111"},"encoding":{"text":{"field":"t","type":"nominal"}}},
{"data":{"values":[{"t":"Y","x":1.0428,"y":0.0252}]},"mark":{"type":"text","font":"Liberation Serif","fontSize":21,"angle":-8,"align":"center","baseline":"middle","color":"#111"},"encoding":{"text":{"field":"t","type":"nominal"}}},
{"data":{"values":[{"t":"P","x":1.1102,"y":0.0195}]},"mark":{"type":"text","font":"Liberation Serif","fontSize":14,"angle":-8,"align":"center","baseline":"middle","color":"#111"},"encoding":{"text":{"field":"t","type":"nominal"}}},
{"data":{"values":[{"t":"PDG","x":1.3001,"y":0.0331}]},"mark":{"type":"text","font":"Liberation Sans","fontSize":19,"angle":-8,"align":"center","baseline":"middle","color":"#111"},"encoding":{"text":{"field":"t","type":"nominal"}}},
{"data":{"values":[{"x":0.6834,"x2":1.7698,"y":0.2599,"y2":0.1913}]},"mark":{"type":"rect","fill":"white","stroke":"#222","strokeWidth":1.3,"cornerRadius":5},"encoding":{"x2":{"field":"x2"},"y2":{"field":"y2"}}},
{"data":{"values":[{"t":"Current Constraints","x":1.2266,"y":0.2497},{"t":"and Future Sensitivity","x":1.2266,"y":0.2271}]},"mark":{"type":"text","font":"Liberation Serif","fontSize":19,"align":"center","baseline":"middle","color":"#222"},"encoding":{"text":{"field":"t","type":"nominal"}}},
{"data":{"values":[{"t":"N","x":1.0735,"y":0.2045}]},"mark":{"type":"text","font":"Liberation Serif","fontSize":19,"align":"right","baseline":"middle","color":"#222"},"encoding":{"text":{"field":"t","type":"nominal"}}},
{"data":{"values":[{"t":"eff","x":1.0785,"y":0.2005}]},"mark":{"type":"text","font":"Liberation Serif","fontSize":13,"align":"left","baseline":"middle","color":"#222"},"encoding":{"text":{"field":"t","type":"nominal"}}},
{"data":{"values":[{"t":"varies","x":1.1898,"y":0.2045}]},"mark":{"type":"text","font":"Liberation Serif","fontSize":19,"align":"left","baseline":"middle","color":"#222"},"encoding":{"text":{"field":"t","type":"nominal"}}},
{"data":{"values":[{"c":"Lg","x":0.2253,"y":-0.0997},{"c":"Lp","x":0.2253,"y":-0.1324},{"c":"Lv","x":0.2253,"y":-0.1979},{"c":"Ly","x":0.2253,"y":-0.2307}]},
"mark":{"type":"point","shape":"square","filled":true,"opacity":1,"size":342,"stroke":"#555","strokeWidth":1.2},
"encoding":{"color":{"field":"c","type":"nominal","scale":{"domain":["g","p","v","y","Lg","Lp","Lv","Ly"],"range":["#8c8c8c","#800080","#138a13","#ffc20e","#a0a0a0","#a03fa3","#3d9e3d","#fdd546"]},"legend":null}}},
{"data":{"values":[{"x":0.165,"x2":0.283,"y":-0.1652}]},"mark":{"type":"rule","color":"#800080","strokeWidth":2,"strokeDash":[9,6]},"encoding":{"x2":{"field":"x2"}}},
{"data":{"values":[{"t":"Planck","x":0.3735,"y":-0.0997},{"t":"Y","x":0.3754,"y":-0.1324},{"t":"|","x":0.504,"y":-0.1324},{"t":"+ D/H|","x":0.9449,"y":-0.1324},{"t":"+ Ω","x":1.3797,"y":-0.1324},{"t":"h","x":1.6063,"y":-0.1324},{"t":"Y","x":0.3754,"y":-0.1652},{"t":"|","x":0.504,"y":-0.1652},{"t":"+ D/H|","x":0.7367,"y":-0.1652},{"t":"+ Ω","x":1.1531,"y":-0.1652},{"t":"h","x":1.3778,"y":-0.1652},{"t":"Simons Observatory","x":0.3735,"y":-0.1979},{"t":"CMB-S4","x":0.3735,"y":-0.2307}]},
"mark":{"type":"text","font":"Liberation Serif","fontSize":19,"align":"left","baseline":"middle","color":"#222"},"encoding":{"text":{"field":"t","type":"nominal"}}},
{"data":{"values":[{"t":"P","x":0.455,"y":-0.1383},{"t":"P","x":1.2767,"y":-0.1383},{"t":"b","x":1.5695,"y":-0.1383},{"t":"P","x":0.455,"y":-0.1711},{"t":"P","x":1.0747,"y":-0.1711},{"t":"b","x":1.3411,"y":-0.1711}]},
"mark":{"type":"text","font":"Liberation Serif","fontSize":13,"align":"left","baseline":"middle","color":"#222"},"encoding":{"text":{"field":"t","type":"nominal"}}},
{"data":{"values":[{"t":"2","x":1.6828,"y":-0.1256},{"t":"2","x":1.447,"y":-0.1584}]},
"mark":{"type":"text","font":"Liberation Serif","fontSize":13,"align":"left","baseline":"middle","color":"#222"},"encoding":{"text":{"field":"t","type":"nominal"}}},
{"data":{"values":[{"t":"EMPRESS","x":0.5285,"y":-0.1383},{"t":"PDG","x":0.5285,"y":-0.1711}]},
"mark":{"type":"text","font":"Liberation Serif","fontSize":14.5,"align":"left","baseline":"middle","color":"#222"},"encoding":{"text":{"field":"t","type":"nominal"}}},
{"data":{"values":[{"t":"ΔN","x":0.2345,"y":-0.3053}]},"mark":{"type":"text","font":"Liberation Serif","fontSize":30,"align":"right","baseline":"middle","color":"#222"},"encoding":{"text":{"field":"t","type":"nominal"}}},
{"data":{"values":[{"t":"eff","x":0.2445,"y":-0.3175}]},"mark":{"type":"text","font":"Liberation Serif","fontSize":20,"align":"left","baseline":"middle","color":"#222"},"encoding":{"text":{"field":"t","type":"nominal"}}},
{"data":{"values":[{"t":"ξ","x":-1.97,"y":-0.0008}]},"mark":{"type":"text","font":"Liberation Serif","fontStyle":"italic","fontSize":30,"angle":270,"align":"center","baseline":"middle","color":"#222"},"encoding":{"text":{"field":"t","type":"nominal"}}},
{"data":{"values":[{"t":"ν","x":-1.921,"y":0.0194}]},"mark":{"type":"text","font":"Liberation Serif","fontStyle":"italic","fontSize":20,"angle":270,"align":"center","baseline":"middle","color":"#222"},"encoding":{"text":{"field":"t","type":"nominal"}}},
{"data":{"values":[{"t":"e","x":-1.897,"y":0.0325}]},"mark":{"type":"text","font":"Liberation Serif","fontSize":14,"angle":270,"align":"center","baseline":"middle","color":"#222"},"encoding":{"text":{"field":"t","type":"nominal"}}}
]
}
]
}
